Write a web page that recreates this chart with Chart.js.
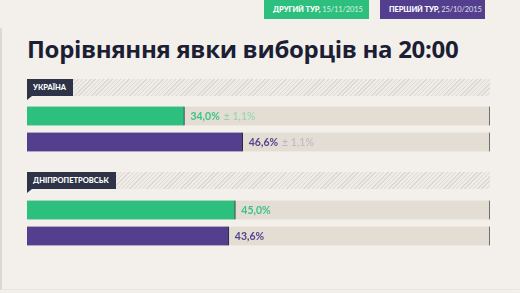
<!DOCTYPE html>
<html>
<head>
<meta charset="utf-8">
<script src="https://cdn.jsdelivr.net/npm/chart.js@4"></script>
<style>
  html, body { margin: 0; padding: 0; }
  body { width: 520px; height: 293px; background: #f3f0ec; position: relative; overflow: hidden; font-family: Lato, "Open Sans", sans-serif; }
  .panel { position: absolute; left: 0; top: 28px; width: 519px; height: 262px; border-left: 2px solid #dcd8d3; border-bottom: 1px solid #e8e4df; box-sizing: border-box; }
  .legend { position: absolute; top: 0; height: 19px; line-height: 19px; color: #fff; font-size: 7.5px; padding: 0 0 0 9px; box-sizing: border-box; white-space: nowrap; letter-spacing: -0.1px; }
  .legend b { font-weight: 900; }
  .legend span { opacity: 0.8; }
  h1 { position: absolute; left: 27px; top: 32px; margin: 0; font-size: 24px; font-weight: 700; color: #1c1e33; font-family: "Open Sans", sans-serif; letter-spacing: -0.3px; white-space: nowrap; }
  .head { position: absolute; left: 27px; width: 463px; height: 17px; background: repeating-linear-gradient(135deg, #ddd8d2 0 1px, #efebe6 1px 3px); }
  .head .tag { position: absolute; left: 0; top: 0; height: 17px; line-height: 17px; background: #2e3347; color: #fff; font-size: 7.5px; font-weight: 900; padding: 0 7px 0 6px; }
  .head .tag:after { content: ""; position: absolute; left: 0; top: 17px; border-top: 4px solid #2e3347; border-right: 5px solid transparent; }
  canvas { position: absolute; left: 0; }
</style>
</head>
<body>
<div class="panel"></div>
<div id="leg0" class="legend" style="left:264px;width:105px;background:#2dbf7e"></div>
<div id="leg1" class="legend" style="left:380px;width:105px;background:#533f8e"></div>
<h1>Порівняння явки виборців на 20:00</h1>
<div id="head0" class="head" style="top:79px"><div class="tag"></div></div>
<div id="head1" class="head" style="top:172px"><div class="tag"></div></div>
<canvas id="c0" width="520" height="52" style="top:103px"></canvas>
<canvas id="c1" width="520" height="52" style="top:197px"></canvas>
<script>
const regions = ['УКРАЇНА', 'ДНІПРОПЕТРОВСЬК'];
const rounds = ['ДРУГИЙ ТУР,', 'ПЕРШИЙ ТУР,'];
const roundDates = ['15/11/2015', '25/10/2015'];
const secondRound = [34.0, 45.0];
const firstRound = [46.6, 43.6];
const errorMargin = [1.1, null];
const fullScale = [100, 100];

const roundColors = ['#2dbf7e', '#533f8e'];
const labelColors = ['#3cc289', '#54428f'];
const marginColors = ['#8ed6b2', '#bdb5c4'];

rounds.forEach((r, i) => {
  document.getElementById('leg' + i).innerHTML = '<b>' + r + '</b> <span>' + roundDates[i] + '</span>';
});
regions.forEach((r, i) => {
  document.querySelector('#head' + i + ' .tag').textContent = r;
});

const fmt = v => v.toFixed(1).replace('.', ',') + '%';

const valueLabels = {
  id: 'valueLabels',
  afterDatasetsDraw(chart) {
    const ctx = chart.ctx;
    const meta = chart.getDatasetMeta(1);
    const region = chart.options.plugins.valueLabels.region;
    meta.data.forEach((bar, j) => {
      const v = chart.data.datasets[1].data[j];
      ctx.save();
      ctx.textBaseline = 'middle';
      ctx.font = 'bold 10.5px Lato, sans-serif';
      ctx.fillStyle = labelColors[j];
      const x = bar.x + 6;
      const txt = fmt(v);
      ctx.fillText(txt, x, bar.y + 1);
      const m = errorMargin[region];
      if (m !== null) {
        const w = ctx.measureText(txt).width;
        ctx.font = '10.5px Lato, sans-serif';
        ctx.fillStyle = marginColors[j];
        ctx.fillText('± ' + m.toFixed(1).replace('.', ',') + '%', x + w + 4, bar.y + 1);
      }
      ctx.restore();
    });
  }
};

regions.forEach((name, i) => {
  new Chart(document.getElementById('c' + i), {
    type: 'bar',
    data: {
      labels: rounds,
      datasets: [
        {
          data: fullScale,
          backgroundColor: '#e4ddd3',
          borderColor: '#3a3a44',
          borderWidth: { right: 1, left: 0, top: 0, bottom: 0 },
          borderSkipped: false,
          barThickness: 19,
          grouped: false,
          order: 2
        },
        {
          data: [secondRound[i], firstRound[i]],
          backgroundColor: roundColors,
          borderColor: '#2a2a3a',
          borderWidth: { right: 1, left: 0, top: 0, bottom: 0 },
          borderSkipped: false,
          barThickness: 19,
          grouped: false,
          order: 1
        }
      ]
    },
    options: {
      indexAxis: 'y',
      responsive: false,
      animation: false,
      devicePixelRatio: 1,
      layout: { padding: { left: 27, right: 30, top: 0, bottom: 0 } },
      scales: {
        x: { display: false, min: 0, max: 100 },
        y: { display: false }
      },
      plugins: {
        legend: { display: false },
        tooltip: { enabled: false },
        valueLabels: { region: i }
      }
    },
    plugins: [valueLabels]
  });
});
</script>
</body>
</html>
